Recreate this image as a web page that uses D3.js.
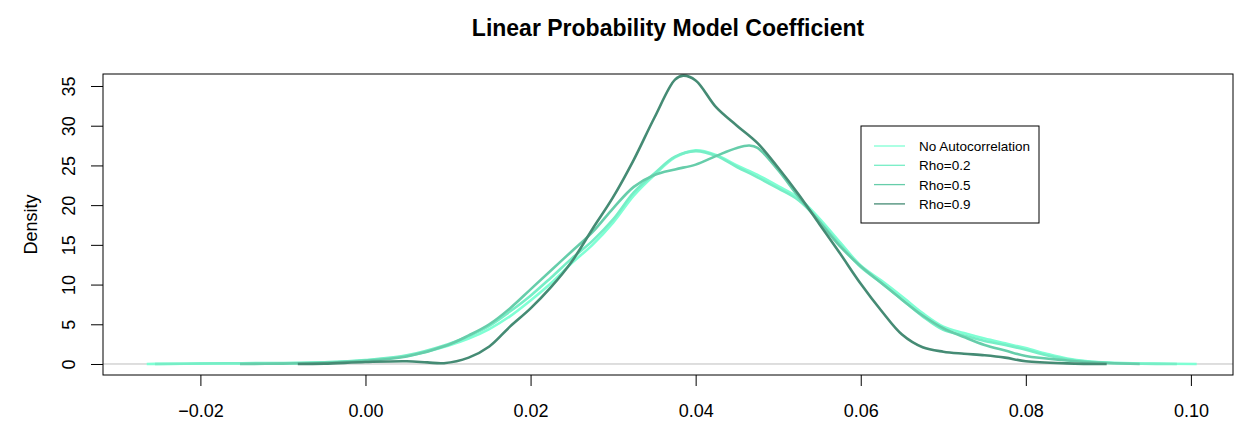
<!DOCTYPE html>
<html>
<head>
<meta charset="utf-8">
<script src="https://cdn.jsdelivr.net/npm/d3@7"></script>
<style>
  body { margin: 0; background: #fff; }
  svg text { font-family: "Liberation Sans", Arial, Helvetica, sans-serif; }
</style>
</head>
<body>
<div id="chart"></div>
<script>

// density curves
var xNoAuto = [-0.0265, -0.025, -0.02, -0.015, -0.01, -0.005, 0, 0.005, 0.01, 0.0125, 0.015, 0.0175, 0.02, 0.0225, 0.025, 0.0275, 0.03, 0.0325, 0.035, 0.0375, 0.04, 0.0425, 0.045, 0.0475, 0.05, 0.0525, 0.055, 0.0575, 0.06, 0.0625, 0.065, 0.0675, 0.07, 0.0725, 0.075, 0.0775, 0.08, 0.0825, 0.085, 0.0875, 0.09, 0.095, 0.1007];
var yNoAuto = [0, 0.02, 0.05, 0.08, 0.1, 0.2, 0.45, 1.0, 2.3, 3.2, 4.4, 6.0, 8.0, 10.2, 12.7, 15.0, 17.8, 21.2, 23.8, 26.0, 26.9, 26.3, 25.0, 23.8, 22.4, 20.9, 18.3, 15.3, 12.4, 10.5, 8.5, 6.4, 4.7, 3.9, 3.2, 2.6, 2.0, 1.3, 0.7, 0.35, 0.18, 0.06, 0];

var xRho2 = [-0.0255, -0.02, -0.015, -0.01, -0.005, 0, 0.005, 0.01, 0.0125, 0.015, 0.0175, 0.02, 0.0225, 0.025, 0.0275, 0.03, 0.0325, 0.035, 0.0375, 0.04, 0.0425, 0.045, 0.0475, 0.05, 0.0525, 0.055, 0.0575, 0.06, 0.0625, 0.065, 0.0675, 0.07, 0.0725, 0.075, 0.0775, 0.08, 0.0825, 0.085, 0.0875, 0.09, 0.094, 0.0983];
var yRho2 = [0, 0.06, 0.1, 0.12, 0.22, 0.5, 1.1, 2.5, 3.5, 4.8, 6.6, 8.6, 10.9, 13.3, 15.5, 18.2, 21.6, 24.0, 26.1, 26.8, 26.2, 24.8, 23.5, 22.1, 20.6, 18.0, 15.0, 12.2, 10.2, 8.1, 6.0, 4.3, 3.6, 2.9, 2.4, 1.8, 1.1, 0.6, 0.3, 0.12, 0.03, 0];

var xRho5 = [-0.0152, -0.01, -0.005, 0, 0.005, 0.01, 0.0125, 0.015, 0.0175, 0.02, 0.0225, 0.025, 0.0275, 0.03, 0.0325, 0.035, 0.0375, 0.04, 0.0425, 0.045, 0.0465, 0.0475, 0.05, 0.0525, 0.055, 0.0575, 0.06, 0.0625, 0.065, 0.0675, 0.07, 0.0725, 0.075, 0.0775, 0.08, 0.085, 0.09, 0.0938];
var yRho5 = [0, 0.05, 0.15, 0.4, 0.95, 2.4, 3.6, 5.0, 7.0, 9.4, 11.8, 14.2, 16.6, 19.6, 22.3, 23.8, 24.5, 25.1, 26.2, 27.2, 27.5, 27.2, 24.4, 21.0, 17.9, 14.8, 12.3, 10.2, 8.1, 6.1, 4.5, 3.4, 2.4, 1.7, 1.0, 0.45, 0.12, 0];

var xRho9 = [-0.0082, -0.005, 0, 0.005, 0.0075, 0.0095, 0.0125, 0.015, 0.0175, 0.02, 0.0225, 0.025, 0.0275, 0.03, 0.0325, 0.035, 0.0375, 0.0385, 0.04, 0.0425, 0.045, 0.0475, 0.05, 0.0525, 0.055, 0.0575, 0.06, 0.0625, 0.065, 0.0675, 0.07, 0.0725, 0.075, 0.0775, 0.08, 0.085, 0.0898];
var yRho9 = [0, 0.05, 0.25, 0.35, 0.2, 0.1, 0.8, 2.2, 4.7, 7.0, 9.7, 12.9, 17.0, 21.0, 25.7, 31.0, 35.8, 36.3, 35.7, 32.3, 30.0, 27.8, 24.7, 21.3, 17.6, 13.9, 10.1, 6.7, 3.7, 2.1, 1.55, 1.3, 1.1, 0.8, 0.35, 0.08, 0];

var seriesNames = ["No Autocorrelation", "Rho=0.2", "Rho=0.5", "Rho=0.9"];
var seriesColors = ["#7FFFD4", "#76EEC6", "#66CDAA", "#458B74"];

var xTicks = [-0.02, 0, 0.02, 0.04, 0.06, 0.08, 0.10];
var yTicks = [0, 5, 10, 15, 20, 25, 30, 35];

var series = [
  { name: seriesNames[0], color: seriesColors[0], xs: xNoAuto, ys: yNoAuto },
  { name: seriesNames[1], color: seriesColors[1], xs: xRho2, ys: yRho2 },
  { name: seriesNames[2], color: seriesColors[2], xs: xRho5, ys: yRho5 },
  { name: seriesNames[3], color: seriesColors[3], xs: xRho9, ys: yRho9 }
];

// SETUP CHART
const width = 1235, height = 425;
const box = { left: 103, right: 1233, top: 74, bottom: 375 };

const svg = d3.select("#chart").append("svg")
  .attr("width", width)
  .attr("height", height);

const x = d3.scaleLinear().domain([-0.0318, 0.1051]).range([box.left, box.right]);
const y = d3.scaleLinear().domain([-1.385, 36.51]).range([box.bottom, box.top]);

// zero line
svg.append("line")
  .attr("x1", box.left).attr("x2", box.right)
  .attr("y1", y(0)).attr("y2", y(0))
  .attr("stroke", "#bebebe").attr("stroke-width", 1);

const line = d3.line()
  .x(d => x(d[0]))
  .y(d => y(d[1]))
  .curve(d3.curveCatmullRom.alpha(0.5));

series.forEach(s => {
  svg.append("path")
    .datum(s.xs.map((v, i) => [v, s.ys[i]]))
    .attr("fill", "none")
    .attr("stroke", s.color)
    .attr("stroke-width", 2.6)
    .attr("stroke-linejoin", "round")
    .attr("d", line);
});

// box
svg.append("rect")
  .attr("x", box.left).attr("y", box.top)
  .attr("width", box.right - box.left).attr("height", box.bottom - box.top)
  .attr("fill", "none").attr("stroke", "#000").attr("stroke-width", 1);

// axes
const fmtX = d => (d < 0 ? "\u2212" : "") + d3.format(".2f")(Math.abs(d));

const xAxisGroup = svg.append("g")
  .attr("transform", `translate(0,${box.bottom})`)
  .call(d3.axisBottom(x).tickValues(xTicks).tickFormat(fmtX).tickSize(11).tickPadding(5));

const yAxisGroup = svg.append("g")
  .attr("transform", `translate(${box.left},0)`)
  .call(d3.axisLeft(y).tickValues(yTicks).tickSize(12).tickPadding(0));

[xAxisGroup, yAxisGroup].forEach(g => {
  g.select(".domain").remove();
  g.selectAll("line").attr("stroke", "#000");
  g.selectAll("text")
    .attr("fill", "#000")
    .attr("font-family", "Liberation Sans, Arial, sans-serif")
    .style("font-size", "18px");
});

xAxisGroup.selectAll(".tick text")
  .attr("y", 0).attr("dy", 0)
  .attr("transform", "translate(0,42)");

yAxisGroup.selectAll(".tick text")
  .attr("x", 0).attr("dy", 0)
  .attr("text-anchor", "middle")
  .attr("transform", "translate(-28,0) rotate(-90)");

// title & axis label
svg.append("text")
  .attr("x", (box.left + box.right) / 2)
  .attr("y", 36)
  .attr("text-anchor", "middle")
  .attr("font-weight", "bold")
  .style("font-size", "23px")
  .text("Linear Probability Model Coefficient");

svg.append("text")
  .attr("transform", `translate(37,${(box.top + box.bottom) / 2}) rotate(-90)`)
  .attr("text-anchor", "middle")
  .style("font-size", "18px")
  .text("Density");

// legend
const legend = svg.append("g");
legend.append("rect")
  .attr("x", 861).attr("y", 126)
  .attr("width", 178).attr("height", 97)
  .attr("fill", "#fff").attr("stroke", "#000").attr("stroke-width", 1);

series.forEach((s, i) => {
  const ly = 146 + i * 19.3;
  legend.append("line")
    .attr("x1", 874).attr("x2", 905)
    .attr("y1", ly).attr("y2", ly)
    .attr("stroke", s.color).attr("stroke-width", 1.3);
  legend.append("text")
    .attr("x", 919).attr("y", ly + 5)
    .style("font-size", "13.5px")
    .text(s.name);
});
</script>
</body>
</html>
